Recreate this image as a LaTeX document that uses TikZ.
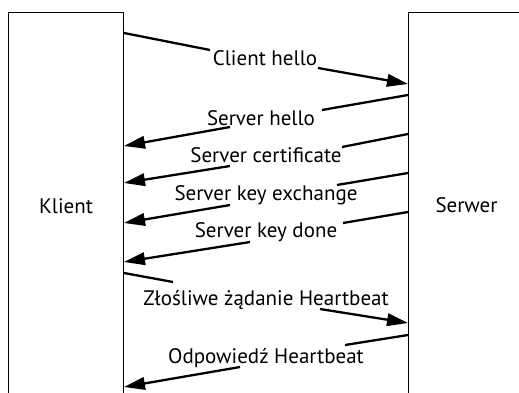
\documentclass[tikz,border=0pt]{standalone}
\usepackage{fontspec}
\setmainfont{PT Sans}
\usetikzlibrary{arrows.meta}
\begin{document}
\begin{tikzpicture}[x=1pt,y=-1pt,
  box/.style={draw, line width=1pt, inner sep=0pt, anchor=north west, font=\fontsize{21}{24}\selectfont},
  lbl/.style={anchor=base, inner sep=0pt, font=\fontsize{21}{24}\selectfont},
  msg/.style={line width=2.3pt},
  amsg/.style={line width=2.3pt, -{Triangle[length=21pt,width=12.5pt]}}]
\useasboundingbox (0,0) rectangle (519,393);
\clip (0,0) rectangle (519,393);
\node[box, minimum width=115pt, minimum height=387pt] (klient) at (8,12) {Klient};
\node[box, minimum width=116pt, minimum height=385pt] (serwer) at (408,12) {Serwer};
% labels
\node[lbl] (l1) at (265,66) {Client hello};
\node[lbl] (l2) at (261,125) {Server hello};
\node[lbl] (l3) at (266,162) {Server certificate};
\node[lbl] (l4) at (266,200) {Server key exchange};
\node[lbl] (l5) at (266,237) {Server key done};
\node[lbl] (l6) at (266,305) {Złośliwe żądanie Heartbeat};
\node[lbl] (l7) at (266,363) {Odpowiedź Heartbeat};
% free ends
\coordinate (a1) at (210,50);  \coordinate (b1) at (318,68);
\coordinate (a2) at (322,110); \coordinate (b2) at (230,127);
\coordinate (a3) at (342,147); \coordinate (b3) at (230,166);
\coordinate (a4) at (337,185); \coordinate (b4) at (230,205);
\coordinate (a5) at (343,223); \coordinate (b5) at (250,242);
\coordinate (a6) at (173,282); \coordinate (b6) at (320,309);
\coordinate (a7) at (345,345); \coordinate (b7) at (240,367);
% messages
\draw[msg] ([yshift=-21pt]klient.north east) -- (a1);
\draw[amsg] (b1) -- ([yshift=-72pt]serwer.north west);
\draw[msg] ([yshift=-83pt]serwer.north west) -- (a2);
\draw[amsg] (b2) -- ([yshift=-134pt]klient.north east);
\draw[msg] ([yshift=-122pt]serwer.north west) -- (a3);
\draw[amsg] (b3) -- ([yshift=-171pt]klient.north east);
\draw[msg] ([yshift=-161pt]serwer.north west) -- (a4);
\draw[amsg] (b4) -- ([yshift=-211pt]klient.north east);
\draw[msg] ([yshift=-200pt]serwer.north west) -- (a5);
\draw[amsg] (b5) -- ([yshift=-250pt]klient.north east);
\draw[msg] ([yshift=-261pt]klient.north east) -- (a6);
\draw[amsg] (b6) -- ([yshift=-311pt]serwer.north west);
\draw[msg] ([yshift=-323pt]serwer.north west) -- (a7);
\draw[amsg] (b7) -- ([yshift=-375pt]klient.north east);
\end{tikzpicture}
\end{document}
